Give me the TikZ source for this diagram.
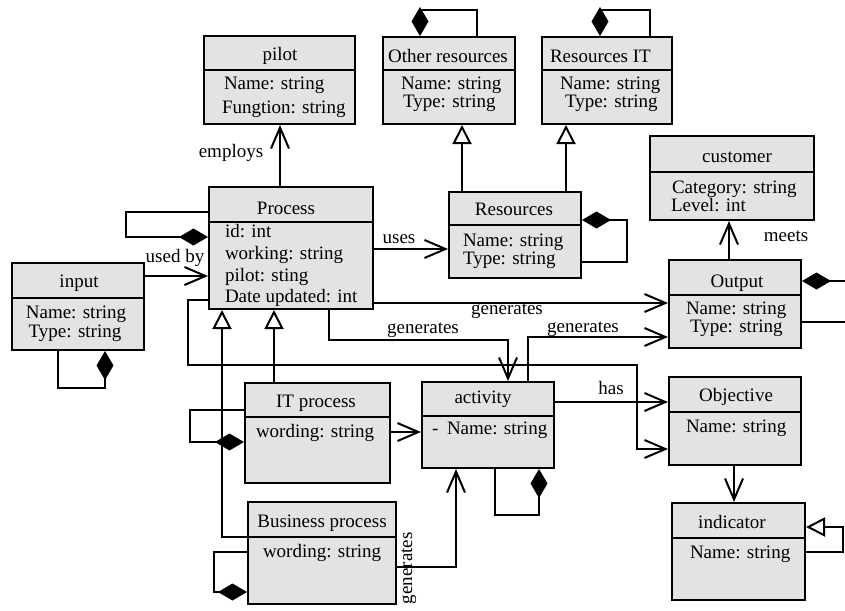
\documentclass[tikz,border=0pt]{standalone}
\usepackage{fontspec}
\setmainfont{Liberation Serif}
\usetikzlibrary{arrows.meta,fit}

% class box: name, left, top, right, divider, bottom
\newcommand\umlcls[6]{%
  \node[cls, fit={(#2,#3) (#4,#6)}] (#1) {};
  \draw (#1.west |- 0,#5) -- (#1.east |- 0,#5);
}

\begin{document}
\begin{tikzpicture}[x=1pt, y=-1pt, line width=2pt,
  font=\fontsize{19}{22}\selectfont,
  cls/.style={draw, fill=gray!22, inner sep=0pt},
  txt/.style={inner sep=0pt, anchor=base west},
  ttl/.style={inner sep=0pt, anchor=base},
  nav/.style={-{Straight Barb[length=21pt,width=18pt]}},
  gen/.style={-{Triangle[open,length=19pt,width=19pt,fill=white]}},
  comp/.style={{Diamond[length=29pt,width=17pt]}-}]
\useasboundingbox (0,0) rectangle (845,610);

% ---- classes ----
\umlcls{pilot}{204}{36}{355}{70}{124}
\node[ttl] (pilotT) at (280,60) {pilot};
\node[txt] (pilotA) at (223,89) {Name: string};
\node[txt] (pilotB) at (221,113) {Fungtion: string};

\umlcls{othres}{383}{37}{515}{70}{124}
\node[ttl] (othresT) at (448,63) {Other resources};
\node[txt] (othresA) at (400,89) {Name: string};
\node[txt] (othresB) at (402,107) {Type: string};

\umlcls{resit}{542}{37}{672}{70}{124}
\node[txt] (resitT) at (549,63) {Resources IT};
\node[txt] (resitA) at (559,89) {Name: string};
\node[txt] (resitB) at (564,107) {Type: string};

\umlcls{process}{209}{187}{373}{222}{309}
\node[ttl] (processT) at (286,214) {Process};
\node[txt] (processA) at (224,237) {id: int};
\node[txt] (processB) at (224,259) {working: string};
\node[txt] (processC) at (224,281) {pilot: sting};
\node[txt] (processD) at (224,302) {Date updated: int};

\umlcls{res}{449}{192}{581}{225}{278}
\node[ttl] (resT) at (514,215) {Resources};
\node[txt] (resA) at (462,246) {Name: string};
\node[txt] (resB) at (462,264) {Type: string};

\umlcls{input}{12}{263}{144}{298}{350}
\node[ttl] (inputT) at (79,287) {input};
\node[ttl] (inputA) at (76,318) {Name: string};
\node[ttl] (inputB) at (75,337) {Type: string};

\umlcls{customer}{650}{136}{814}{172}{220}
\node[ttl] (customerT) at (737,162) {customer};
\node[txt] (customerA) at (671,193) {Category: string};
\node[txt] (customerB) at (670,211) {Level: int};

\umlcls{output}{669}{260}{801}{295}{348}
\node[ttl] (outputT) at (737,287) {Output};
\node[txt] (outputA) at (685,314) {Name: string};
\node[txt] (outputB) at (689,332) {Type: string};

\umlcls{itp}{245}{383}{390}{417}{483}
\node[ttl] (itpT) at (316,407) {IT process};
\node[txt] (itpA) at (255,437) {wording: string};

\umlcls{act}{422}{382}{554}{416}{468}
\node[ttl] (actT) at (483,403) {activity};
\node[txt] (actM) at (431,434) {-};
\node[txt] (actA) at (446,434) {Name: string};

\umlcls{bp}{248}{502}{396}{537}{604}
\node[ttl] (bpT) at (322,527) {Business process};
\node[txt] (bpA) at (262,557) {wording: string};

\umlcls{obj}{669}{377}{801}{412}{465}
\node[ttl] (objT) at (736,401) {Objective};
\node[txt] (objA) at (685,432) {Name: string};

\umlcls{ind}{672}{503}{805}{538}{600}
\node[ttl] (indT) at (732,528) {indicator};
\node[txt] (indA) at (689,558) {Name: string};

% ---- free ends at the right margin ----
\coordinate (outLoopA) at (845,281);
\coordinate (outLoopB) at (845,322);

% ---- compositions (self references) ----
\draw[comp] (process.west |- 0,237) -- (126,237) -- (126,212) -- (process.west |- 0,212);
\draw[comp] (input.south -| 105,0) -- (105,388) -- (58,388) -- (input.south -| 58,0);
\draw[comp] (othres.north -| 420,0) -- (420,10) -- (477,10) -- (othres.north -| 477,0);
\draw[comp] (resit.north -| 600,0) -- (600,10) -- (650,10) -- (resit.north -| 650,0);
\draw[comp] (res.east |- 0,220) -- (627,220) -- (627,262) -- (res.east |- 0,262);
\draw[comp] (output.east |- 0,281) -- (outLoopA);
\draw (output.east |- 0,322) -- (outLoopB);
\draw[comp] (act.south -| 539,0) -- (539,515) -- (495,515) -- (act.south -| 495,0);
\draw[comp] (itp.west |- 0,442) -- (190,442) -- (190,410) -- (itp.west |- 0,410);
\draw[comp] (bp.west |- 0,592) -- (214,592) -- (214,552) -- (bp.west |- 0,552);

% ---- generalizations ----
\draw[gen] (res.north -| 462,0) -- (othres.south -| 462,0);
\draw[gen] (res.north -| 566,0) -- (resit.south -| 566,0);
\draw[gen] (itp.north -| 274,0) -- (process.south -| 274,0);
\draw[gen] (bp.west |- 0,537) -- (222,537) -- (process.south -| 222,0);
\draw[gen] (ind.east |- 0,552) -- (843,552) -- (843,527) -- (ind.east |- 0,527);

% ---- navigable associations ----
\draw[nav] (process.north -| 280,0) -- (pilot.south -| 280,0);
\draw[nav] (input.east |- 0,276) -- (process.west |- 0,276);
\draw[nav] (process.east |- 0,249) -- (res.west |- 0,249);
\draw[nav] (process.east |- 0,303) -- (output.west |- 0,303);
\draw[nav] (process.south -| 329,0) -- (329,340) -- (508,340) -- (act.north -| 508,0);
\draw[nav] (act.north -| 528,0) -- (528,337) -- (output.west |- 0,337);
\draw[nav] (process.west |- 0,300) -- (188,300) -- (188,365) -- (637,365) -- (637,449) -- (obj.west |- 0,449);
\draw[nav] (act.east |- 0,402) -- (obj.west |- 0,402);
\draw[nav] (output.north -| 729,0) -- (customer.south -| 729,0);
\draw[nav] (obj.south -| 734,0) -- (ind.north -| 734,0);
\draw[nav] (itp.east |- 0,432) -- (act.west |- 0,432);
\draw[nav] (bp.east |- 0,567) -- (456,567) -- (act.south -| 456,0);

% ---- association labels ----
\node[ttl] (lEmploys) at (231,157) {employs};
\node[ttl] (lUsedBy) at (175,262) {used by};
\node[ttl] (lUses) at (399,243) {uses};
\node[ttl] (lMeets) at (786,241) {meets};
\node[ttl] (lGenA) at (507,314) {generates};
\node[ttl] (lGenB) at (423,333) {generates};
\node[ttl] (lGenC) at (583,332) {generates};
\node[ttl] (lHas) at (611,394) {has};
\node[txt, rotate=90] (lGenD) at (412,605) {generates};
\end{tikzpicture}
\end{document}
